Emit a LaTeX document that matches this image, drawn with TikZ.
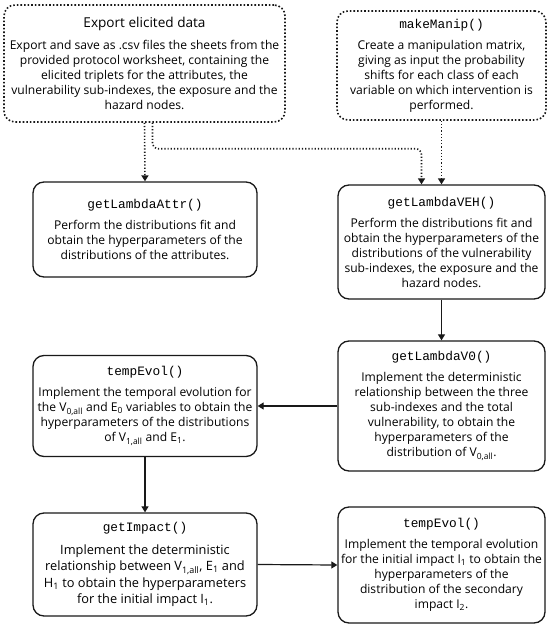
\documentclass[tikz,border=0pt]{standalone}
\usepackage{fontspec}
\setmainfont{Open Sans}
\setmonofont{Liberation Mono}
\usetikzlibrary{arrows.meta,calc}
\tikzset{
  box/.style={draw=black!90, line width=1.3pt, rounded corners=11pt, align=center, inner sep=0pt,
     font=\fontsize{12.1}{15}\selectfont},
  dbox/.style={box, line width=1.6pt, dotted},
  link/.style={line width=1.2pt, draw=black!90, -{Triangle[width=7pt,length=6pt]}},
  dlink/.style={link, dotted, line width=1.6pt},
}
\newcommand{\ttitle}[1]{{\fontsize{12.8}{15}\selectfont\ttfamily #1}\\[6pt]}
\newcommand{\sbs}[1]{\textsubscript{#1}}
\begin{document}
\begin{tikzpicture}[x=1pt,y=-1pt]
\useasboundingbox (0,0) rectangle (550,628);
\node[dbox, minimum width=281pt, minimum height=117pt] (export) at (144.5,63.5)
 {{\fontsize{13.6}{15}\selectfont Export elicited data}\\[7pt]
  Export and save as .csv files the sheets from the\\
  provided protocol worksheet, containing the\\
  elicited triplets for the attributes, the\\
  vulnerability sub-indexes, the exposure and the\\
  hazard nodes.};
\node[dbox, minimum width=209pt, minimum height=109pt] (manip) at (441.5,65.5)
 {\ttitle{makeManip()}
  Create a manipulation matrix,\\
  giving as input the probability\\
  shifts for each class of each\\
  variable on which intervention is\\
  performed.};
\node[box, minimum width=224pt, minimum height=95pt] (attr) at (145,229.5)
 {\ttitle{getLambdaAttr()}
  Perform the distributions fit and\\
  obtain the hyperparameters of the\\
  distributions of the attributes.};
\node[box, minimum width=207pt, minimum height=114pt] (veh) at (441.5,242)
 {\ttitle{getLambdaVEH()}
  Perform the distributions fit and\\
  obtain the hyperparameters of the\\
  distributions of the vulnerability\\
  sub-indexes, the exposure and the\\
  hazard nodes.};
\node[box, minimum width=207pt, minimum height=130pt] (v0) at (441.5,406)
 {\ttitle{getLambdaV0()}
  Implement the deterministic\\
  relationship between the three\\
  sub-indexes and the total\\
  vulnerability, to obtain the\\
  hyperparameters of the\\
  distribution of V\sbs{0,all}.};
\node[box, minimum width=224pt, minimum height=101pt] (temp1) at (145,406)
 {\ttitle{tempEvol()}
  Implement the temporal evolution for\\
  the V\sbs{0,all} and E\sbs{0} variables to obtain the\\
  hyperparameters of the distributions\\
  of V\sbs{1,all} and E\sbs{1}.};
\node[box, minimum width=224pt, minimum height=103pt, font=\fontsize{12.8}{16.5}\selectfont] (impact) at (145,564.5)
 {\ttitle{getImpact()}
  Implement the deterministic\\
  relationship between V\sbs{1,all}, E\sbs{1} and\\
  H\sbs{1} to obtain the hyperparameters\\
  for the initial impact I\sbs{1}.};
\node[box, minimum width=207pt, minimum height=116pt] (temp2) at (441.5,565)
 {\ttitle{tempEvol()}
  Implement the temporal evolution\\
  for the initial impact I\sbs{1} to obtain the\\
  hyperparameters of the\\
  distribution of the secondary\\
  impact I\sbs{2}.};
\draw[dlink] (export.south) -- (attr.north);
\draw[dlink, rounded corners=6pt] ([xshift=8pt]export.south) -- ++(0,26) -| ([xshift=-20pt]veh.north);
\draw[dlink] (manip.south) -- (veh.north);
\draw[link] (veh.south) -- (v0.north);
\draw[link] (v0.west) -- (temp1.east);
\draw[link] (temp1.south) -- (impact.north);
\draw[link] (impact.east) -- (temp2.west);
\end{tikzpicture}
\end{document}
